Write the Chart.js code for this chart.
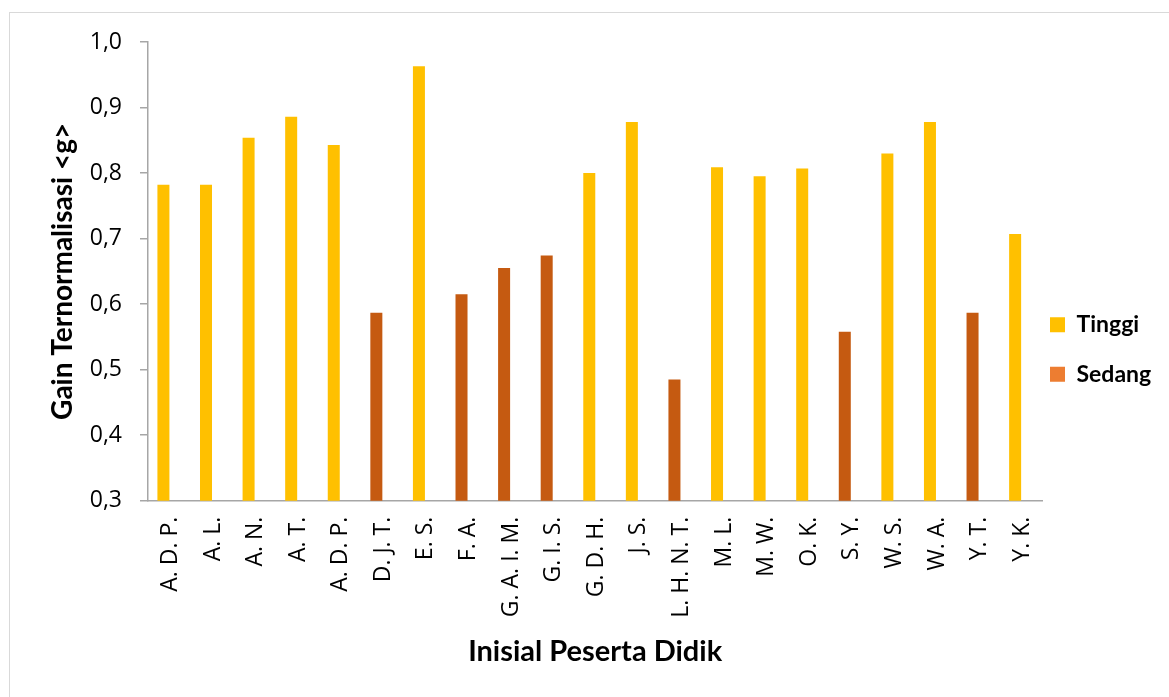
<!DOCTYPE html>
<html><head><meta charset="utf-8">
<style>html,body{margin:0;padding:0;background:#fff;overflow:hidden;} #wrap{width:1169px;height:697px;position:relative;}</style>
</head><body><div id="wrap"><canvas id="c" width="1169" height="697"></canvas></div>
<script src="https://cdn.jsdelivr.net/npm/chart.js@4.4.1/dist/chart.umd.min.js"></script>
<script>
const categories = ['A. D. P.', 'A. L.', 'A. N.', 'A. T.', 'A. D. P.', 'D. J. T.', 'E. S.', 'F. A.', 'G. A. I. M.', 'G. I. S.', 'G. D. H.', 'J. S.', 'L. H. N. T.', 'M. L.', 'M. W.', 'O. K.', 'S. Y.', 'W. S.', 'W. A.', 'Y. T.', 'Y. K.'];
const seriesNames = ['Tinggi', 'Sedang'];
const tinggiValues = [0.782, 0.782, 0.854, 0.886, 0.843, null, 0.963, null, null, null, 0.800, 0.878, null, 0.809, 0.795, 0.807, null, 0.830, 0.878, null, 0.707];
const sedangValues = [null, null, null, null, null, 0.587, null, 0.615, 0.655, 0.674, null, null, 0.485, null, null, null, 0.558, null, null, 0.587, null];
const yMin = 0.3, yMax = 1.0, yStep = 0.1;
const yTitle = 'Gain Ternormalisasi <g>';
const xTitle = 'Inisial Peserta Didik';

const barColors = ['#FFC000', '#C55A11'];
const legendColors = ['#FFC000', '#ED7D31'];
const axisColor = '#A6A6A6';
const textColor = '#000000';
const TICK_FONT = 'Open Sans';
const TITLE_FONT = 'Lato';
// the category axis of the original sits slightly off-centre from its bars
const xStart = -0.362;
const xEnd = categories.length - 1 + 0.638;
const targetPlotRight = 1042.3;

const framePlugin = {
  id: 'frame',
  beforeDraw(chart) {
    const ctx = chart.ctx;
    ctx.save();
    ctx.fillStyle = '#ffffff';
    ctx.fillRect(0, 0, chart.width, chart.height);
    ctx.strokeStyle = '#D9D9D9';
    ctx.lineWidth = 1;
    ctx.strokeRect(9.5, 12.5, 1400, 1000);
    ctx.restore();
  }
};

function toPoints(values) {
  return values.map((v, i) => ({ x: i, y: v }));
}

function build() {
  const chart = new Chart(document.getElementById('c'), {
    type: 'bar',
    data: {
      datasets: [
        { label: seriesNames[0], data: toPoints(tinggiValues), backgroundColor: barColors[0], borderWidth: 0 },
        { label: seriesNames[1], data: toPoints(sedangValues), backgroundColor: barColors[1], borderWidth: 0 }
      ]
    },
    options: {
      responsive: false,
      animation: false,
      devicePixelRatio: 1,
      grouped: false,
      categoryPercentage: 1,
      barPercentage: 0.282,
      layout: { padding: { top: 42, left: 0, right: 10, bottom: 21.3 } },
      plugins: {
        tooltip: { enabled: false },
        legend: {
          position: 'right',
          align: 'center',
          labels: {
            boxWidth: 15,
            boxHeight: 15,
            padding: 7.7,
            color: '#000',
            font: { family: TITLE_FONT, size: 23, weight: 'bold', lineHeight: '41.7px' },
            generateLabels(chart) {
              const items = Chart.defaults.plugins.legend.labels.generateLabels(chart);
              items.forEach((it, i) => {
                it.fillStyle = legendColors[i];
                it.strokeStyle = legendColors[i];
                it.lineWidth = 0;
                it.text = [it.text];
              });
              return items;
            }
          }
        }
      },
      scales: {
        x: {
          type: 'linear',
          min: xStart,
          max: xEnd,
          offset: false,
          grid: { display: false, drawTicks: false, offset: false },
          border: { display: true, color: axisColor, width: 1.5 },
          afterBuildTicks(scale) {
            scale.ticks = categories.map((c, i) => ({ value: i }));
          },
          ticks: {
            autoSkip: false,
            color: textColor,
            font: { family: TICK_FONT, size: 23 },
            minRotation: 90,
            maxRotation: 90,
            padding: 16,
            labelOffset: 7,
            callback: (v) => (categories[Math.round(v)] !== undefined ? categories[Math.round(v)] : '')
          },
          title: {
            display: true,
            text: xTitle,
            color: '#000',
            font: { family: TITLE_FONT, size: 29, weight: 'bold' },
            padding: { top: 0, bottom: 6.3 }
          },
          afterFit(scale) { scale.height = 175; }
        },
        y: {
          min: yMin,
          max: yMax,
          grid: { display: true, drawOnChartArea: false, drawTicks: true, tickLength: 8, color: axisColor, lineWidth: 1.5 },
          border: { display: true, color: axisColor, width: 1.5 },
          ticks: {
            stepSize: yStep,
            color: textColor,
            padding: 18,
            font: { family: TICK_FONT, size: 23 },
            callback: (v) => Number(v).toFixed(1).replace('.', ',')
          },
          title: {
            display: true,
            text: yTitle,
            color: '#000',
            font: { family: TITLE_FONT, size: 28, weight: 'bold' },
            padding: { top: 46.2, bottom: 0 }
          },
          afterFit(scale) { scale.width = 148; }
        }
      }
    },
    plugins: [framePlugin]
  });
  // put the plot's right edge where the original has it, leaving the legend its natural width
  const delta = chart.chartArea.right - targetPlotRight;
  chart.options.layout.padding.right = 10 + delta;
  chart.update('none');
}

Promise.all([
  document.fonts.load('23px "Open Sans"'),
  document.fonts.load('bold 24px Lato')
]).then(build, build);
</script>
</body></html>
